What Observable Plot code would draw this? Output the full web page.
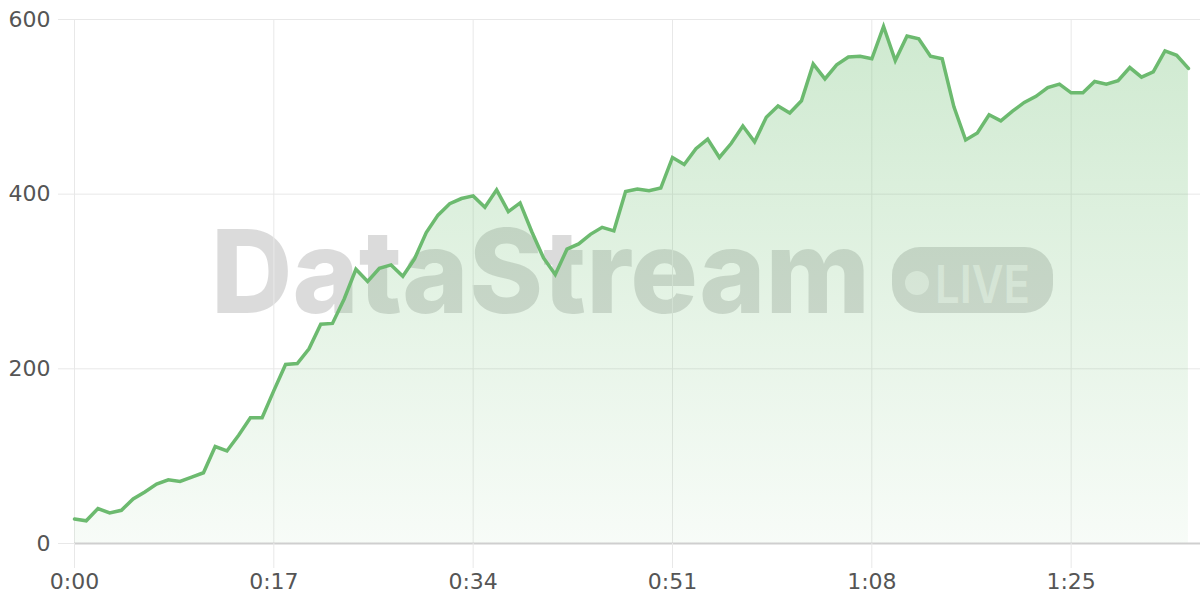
<!DOCTYPE html>
<html>
<head>
<meta charset="utf-8">
<script src="https://cdn.jsdelivr.net/npm/d3@7"></script>
<script src="https://cdn.jsdelivr.net/npm/@observablehq/plot@0.6"></script>
<style>
  html, body { margin: 0; padding: 0; background: #fff; }
  #chart { width: 1200px; height: 600px; }
</style>
</head>
<body>
<div id="chart"></div>
<script>
// elapsed time in seconds
const seconds = [0,1,2,3,4,5,6,7,8,9,10,11,12,13,14,15,16,17,18,19,20,21,22,23,24,25,26,27,28,29,30,31,32,33,34,35,36,37,38,39,40,41,42,43,44,45,46,47,48,49,50,51,52,53,54,55,56,57,58,59,60,61,62,63,64,65,66,67,68,69,70,71,72,73,74,75,76,77,78,79,80,81,82,83,84,85,86,87,88,89,90,91,92,93,94,95];
// value per second
const values = [28,26,40,35,38,51,59,68,73,71,76,81,111,106,124,144,144,175,205,206,223,251,252,280,314,300,315,319,306,326,356,376,389,395,398,385,405,380,390,357,327,308,337,343,354,362,358,403,406,404,407,442,434,452,463,442,458,478,460,488,501,493,507,549,532,548,557,558,555,592,553,581,578,558,555,500,462,470,491,484,495,505,512,522,526,516,516,529,526,530,545,534,540,564,559,544];
const xTicks = [0,17,34,51,68,85];
const yTicks = [0,200,400,600];
const watermarkTitle = "DataStream";
const watermarkBadge = "LIVE";

const data = seconds.map((t, i) => ({t, v: values[i]}));
const fmt = s => `${Math.floor(s / 60)}:${String(s % 60).padStart(2, "0")}`;

// gradient defs + watermark (drawn beneath the data)
function background(index, scales, values, dims) {
  const g = d3.create("svg:g");
  const defs = g.append("defs");
  const grad = defs.append("linearGradient")
    .attr("id", "areaGrad").attr("x1", 0).attr("x2", 0)
    .attr("gradientUnits", "userSpaceOnUse")
    .attr("y1", dims.marginTop).attr("y2", dims.height - dims.marginBottom);
  grad.append("stop").attr("offset", "0%").attr("stop-color", "rgb(102,187,106)").attr("stop-opacity", 0.32);
  grad.append("stop").attr("offset", "100%").attr("stop-color", "rgb(102,187,106)").attr("stop-opacity", 0.05);

  const wm = g.append("g")
    .attr("font-family", "Inter, 'Noto Sans', sans-serif")
    .attr("text-anchor", "start");
  wm.append("text")
    .attr("x", 211).attr("y", 313)
    .attr("text-anchor", "start")
    .attr("font-size", 116).attr("font-weight", 800)
    .attr("textLength", 659).attr("lengthAdjust", "spacingAndGlyphs")
    .attr("fill", "rgba(0,0,0,0.14)")
    .text(watermarkTitle);
  wm.append("rect")
    .attr("x", 892).attr("y", 247).attr("width", 161).attr("height", 66).attr("rx", 28)
    .attr("fill", "rgba(0,0,0,0.14)");
  wm.append("circle")
    .attr("cx", 917).attr("cy", 283).attr("r", 12)
    .attr("fill", "rgba(255,255,255,0.55)");
  wm.append("text")
    .attr("x", 935).attr("y", 303)
    .attr("text-anchor", "start")
    .attr("font-size", 52).attr("font-weight", 600)
    .attr("textLength", 95).attr("lengthAdjust", "spacingAndGlyphs")
    .attr("fill", "rgba(255,255,255,0.55)")
    .text(watermarkBadge);
  return g.node();
}

const chart = Plot.plot({
  width: 1200,
  height: 600,
  marginLeft: 74,
  marginRight: 0,
  marginTop: 19,
  marginBottom: 57,
  style: { fontFamily: "'DejaVu Sans', sans-serif", fontSize: "22px", color: "#666", background: "#fff", overflow: "visible" },
  x: { domain: [0, 96.03] },
  y: { domain: [0, 600] },
  marks: [
    background,
    Plot.gridY(yTicks, { stroke: "#e8e8e8", strokeOpacity: 1, strokeWidth: 1 }),
    Plot.gridX(xTicks, { stroke: "#e8e8e8", strokeOpacity: 1, strokeWidth: 1 }),
    Plot.areaY(data, { x: "t", y: "v", fill: "url(#areaGrad)" }),
    Plot.lineY(data, { x: "t", y: "v", stroke: "#6cba6f", strokeWidth: 3.5, strokeLinejoin: "miter", strokeMiterlimit: 4 }),
    Plot.ruleY([0], { stroke: "#cfcfcf", strokeWidth: 2 }),
    Plot.axisX({ ticks: xTicks, tickFormat: fmt, tickSize: 25, tickPadding: 5, stroke: "#e8e8e8", strokeOpacity: 1, fill: "#555", label: null }),
    Plot.axisY({ ticks: yTicks, tickSize: 16, tickPadding: 8, stroke: "#e8e8e8", strokeOpacity: 1, fill: "#555", label: null })
  ]
});
document.getElementById("chart").appendChild(chart);
</script>
</body>
</html>
